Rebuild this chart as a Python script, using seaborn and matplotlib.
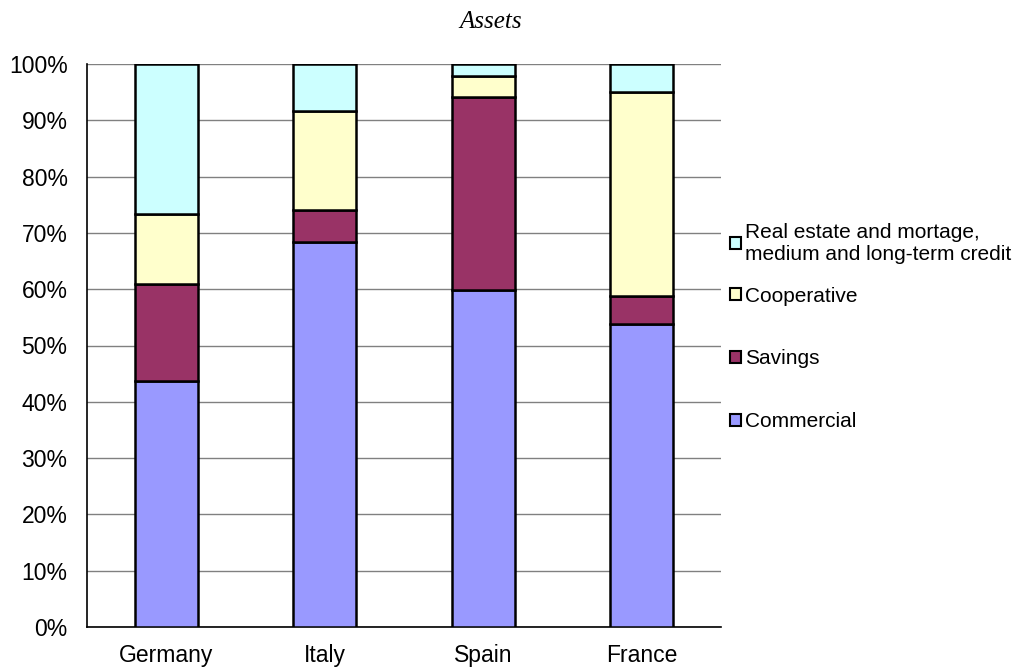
import matplotlib
matplotlib.use("Agg")
import matplotlib.pyplot as plt
import seaborn as sns
import pandas as pd
import numpy as np
from matplotlib.patches import Patch

countries = ["Germany", "Italy", "Spain", "France"]
series_names = ["Commercial", "Savings", "Cooperative",
                "Real estate and mortage,\nmedium and long-term credit"]
commercial = [43.7, 68.4, 59.9, 53.9]
savings = [17.2, 5.7, 34.3, 4.9]
cooperative = [12.4, 17.6, 3.7, 36.3]
real_estate = [26.7, 8.3, 2.1, 4.9]
colors = ["#9999FF", "#993366", "#FFFFCC", "#CCFFFF"]
yticks = [0, 10, 20, 30, 40, 50, 60, 70, 80, 90, 100]

sns.set_style("white")
plt.rcParams["font.family"] = ["Liberation Sans", "DejaVu Sans"]
plt.rcParams["text.color"] = "black"
plt.rcParams["xtick.labelcolor"] = "black"
plt.rcParams["ytick.labelcolor"] = "black"

FS = 16.5

fig = plt.figure(figsize=(10.19, 6.70), dpi=100)
ax = fig.add_axes([87/1019, 1-627/670, (721-87)/1019, (627-64)/670])

values = [commercial, savings, cooperative, real_estate]
bottom = np.zeros(len(countries))
for name, vals, col in zip(series_names, values, colors):
    df = pd.DataFrame({"country": countries, "value": vals})
    sns.barplot(data=df, x="country", y="value", ax=ax, color=col,
                width=0.4, bottom=bottom, edgecolor="black", linewidth=1.8,
                saturation=1, zorder=3)
    bottom = bottom + np.array(vals)

ax.set_xlim(-0.5, len(countries) - 0.5)
ax.set_ylim(0, 100)
ax.set_yticks(yticks)
ax.set_yticklabels([f"{t}%" for t in yticks], fontsize=FS, color="black")
ax.yaxis.grid(True, color="#808080", linewidth=1, zorder=0)
ax.set_axisbelow(True)
ax.set_xlabel("")
ax.set_ylabel("")
ax.set_xticks(np.arange(len(countries)))
ax.set_xticklabels(countries, fontsize=FS, color="black")
ax.tick_params(axis="x", length=0, pad=12)
ax.set_xticks(np.arange(len(countries) + 1) - 0.5, minor=True)
ax.tick_params(axis="x", which="minor", length=6, color="#808080", width=1, direction="out")
ax.tick_params(axis="y", length=7, color="#808080", width=1, direction="out", pad=7)
for s in ["top", "right"]:
    ax.spines[s].set_visible(False)
ax.spines["left"].set_color("black")
ax.spines["bottom"].set_color("black")
ax.spines["left"].set_linewidth(1.2)
ax.spines["bottom"].set_linewidth(1.2)

fig.text(491/1019, 1-22/670, "Assets", ha="center", va="center",
         fontsize=18, fontstyle="italic", family=["Liberation Serif", "DejaVu Serif"])

handles = [Patch(facecolor=c, edgecolor="black", linewidth=1.5) for c in colors]
leg_kw = dict(loc="center left", frameon=False, fontsize=15, handlelength=0.5,
              handleheight=0.5, handletextpad=0.2, labelspacing=2.1, borderpad=0)
leg_top = fig.legend(handles[3:], series_names[3:],
                     bbox_to_anchor=(720/1019, 1-243/670), **leg_kw)
leg_rest = fig.legend(handles[:3][::-1], series_names[:3][::-1],
                      bbox_to_anchor=(720/1019, 1-359/670), **leg_kw)

fig.savefig("out.png", dpi=100)
